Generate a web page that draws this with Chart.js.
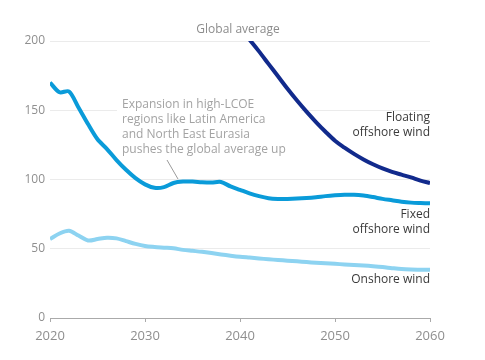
<!DOCTYPE html>
<html>
<head>
<meta charset="utf-8">
<script src="https://cdn.jsdelivr.net/npm/chart.js@4"></script>
<style>
  html, body { margin: 0; padding: 0; background: #fff; }
  #wrap { width: 485px; height: 360px; }
</style>
</head>
<body>
<div id="wrap"><canvas id="chart" width="485" height="360"></canvas></div>
<script>
// Years 2020 - 2060
const years = [];
for (let y = 2020; y <= 2060; y++) years.push(y);

// LCOE, global average
const fixedOffshore = [170, 163, 163.5, 152, 140, 129, 122, 114, 107, 101,
  96.5, 94, 94.5, 97.5, 98.5, 98.5, 98, 97.8, 98.2, 95,
  92.5, 90, 88, 86.5, 86, 86, 86.2, 86.6, 87.2, 88,
  88.6, 89, 89, 88.4, 87.3, 86, 85, 84, 83.3, 83, 82.8];

const onshore = [57, 61, 63, 59.5, 56, 57, 58, 57.5, 55.5, 53.5,
  52, 51.3, 50.8, 50.3, 49.2, 48.5, 47.8, 46.9, 45.9, 45,
  44.2, 43.6, 43, 42.4, 41.9, 41.4, 40.9, 40.4, 39.9, 39.5,
  39.1, 38.7, 38.3, 37.9, 37.4, 36.8, 36, 35.3, 35, 34.9, 34.8];

// floating only visible from ~2041 (above 200 before that)
const floatingOffshore = [null, null, null, null, null, null, null, null, null, null,
  null, null, null, null, null, null, null, null, null, null,
  209, 201, 192.5, 183.5, 174.5, 165.5, 157, 149, 141.5, 134.5,
  128, 123, 118.5, 114.5, 111, 108, 105.5, 103.5, 101.5, 99.2, 97.5];

const yTicks = [0, 50, 100, 150, 200];
const xTicks = [2020, 2030, 2040, 2050, 2060];

const FONT = "'Open Sans', sans-serif";

function toPoints(vals) {
  return years.map((yr, i) => ({ x: yr, y: vals[i] }));
}

// text annotations
const annoPlugin = {
  id: 'anno',
  beforeDatasetsDraw(chart) {
    const ctx = chart.ctx;
    ctx.save();
    // white box behind annotation text (breaks the gridline)
    ctx.fillStyle = '#fff';
    ctx.fillRect(117, 96, 184, 60);
    ctx.restore();
  },
  afterDraw(chart) {
    const ctx = chart.ctx;
    ctx.save();
    ctx.font = '12px ' + FONT;
    ctx.textBaseline = 'middle';

    ctx.fillStyle = '#8c8c8c';
    ctx.textAlign = 'center';
    ctx.fillText('Global average', 238, 30);

    ctx.textAlign = 'left';
    ctx.fillStyle = '#a3a3a3';
    const note = ['Expansion in high-LCOE', 'regions like Latin America',
      'and North East Eurasia', 'pushes the global average up'];
    note.forEach((t, i) => ctx.fillText(t, 122, 105 + i * 14.7));

    ctx.strokeStyle = '#9a9a9a';
    ctx.lineWidth = 1;
    ctx.beginPath();
    ctx.moveTo(167, 160);
    ctx.lineTo(178, 179);
    ctx.stroke();

    ctx.fillStyle = '#3a3a3a';
    ctx.textAlign = 'right';
    ctx.fillText('Floating', 430, 118);
    ctx.fillText('offshore wind', 430, 133);
    ctx.fillText('Fixed', 430, 215);
    ctx.fillText('offshore wind', 430, 230);
    ctx.fillText('Onshore wind', 430, 280);
    ctx.restore();
  }
};

new Chart(document.getElementById('chart'), {
  type: 'line',
  data: {
    datasets: [
      {
        label: 'Onshore wind',
        data: toPoints(onshore),
        borderColor: '#8dd3f1',
        borderWidth: 4,
        pointRadius: 0,
        tension: 0.3,
        clip: 0
      },
      {
        label: 'Fixed offshore wind',
        data: toPoints(fixedOffshore),
        borderColor: '#0a9bd9',
        borderWidth: 4,
        pointRadius: 0,
        tension: 0.3,
        clip: 0
      },
      {
        label: 'Floating offshore wind',
        data: toPoints(floatingOffshore),
        borderColor: '#112a8c',
        borderWidth: 4,
        pointRadius: 0,
        cubicInterpolationMode: 'monotone',
        spanGaps: false,
        clip: 0
      }
    ]
  },
  options: {
    responsive: false,
    animation: false,
    layout: { padding: { top: 41, right: 55, left: 0, bottom: 0 } },
    plugins: {
      legend: { display: false },
      tooltip: { enabled: false }
    },
    scales: {
      x: {
        type: 'linear',
        min: 2020,
        max: 2060,
        afterBuildTicks: (scale) => { scale.ticks = xTicks.map(v => ({ value: v })); },
        afterFit: (scale) => { scale.height = 42; },
        ticks: {
          color: '#8f8f8f',
          font: { family: FONT, size: 13 },
          padding: 6,
          maxRotation: 0,
          callback: (v) => String(v)
        },
        grid: {
          drawOnChartArea: false,
          drawTicks: true,
          tickLength: 4,
          color: '#aaaaaa'
        },
        border: { display: true, color: '#aaaaaa', width: 1 }
      },
      y: {
        min: 0,
        max: 200,
        afterBuildTicks: (scale) => { scale.ticks = yTicks.map(v => ({ value: v })); },
        afterFit: (scale) => { scale.width = 50; },
        ticks: {
          color: '#8f8f8f',
          font: { family: FONT, size: 12 },
          padding: 5
        },
        grid: {
          drawTicks: false,
          color: (c) => c.tick && c.tick.value === 0 ? 'rgba(0,0,0,0)' : '#ebebeb',
          lineWidth: 1
        },
        border: { display: false }
      }
    }
  },
  plugins: [annoPlugin]
});
</script>
</body>
</html>
